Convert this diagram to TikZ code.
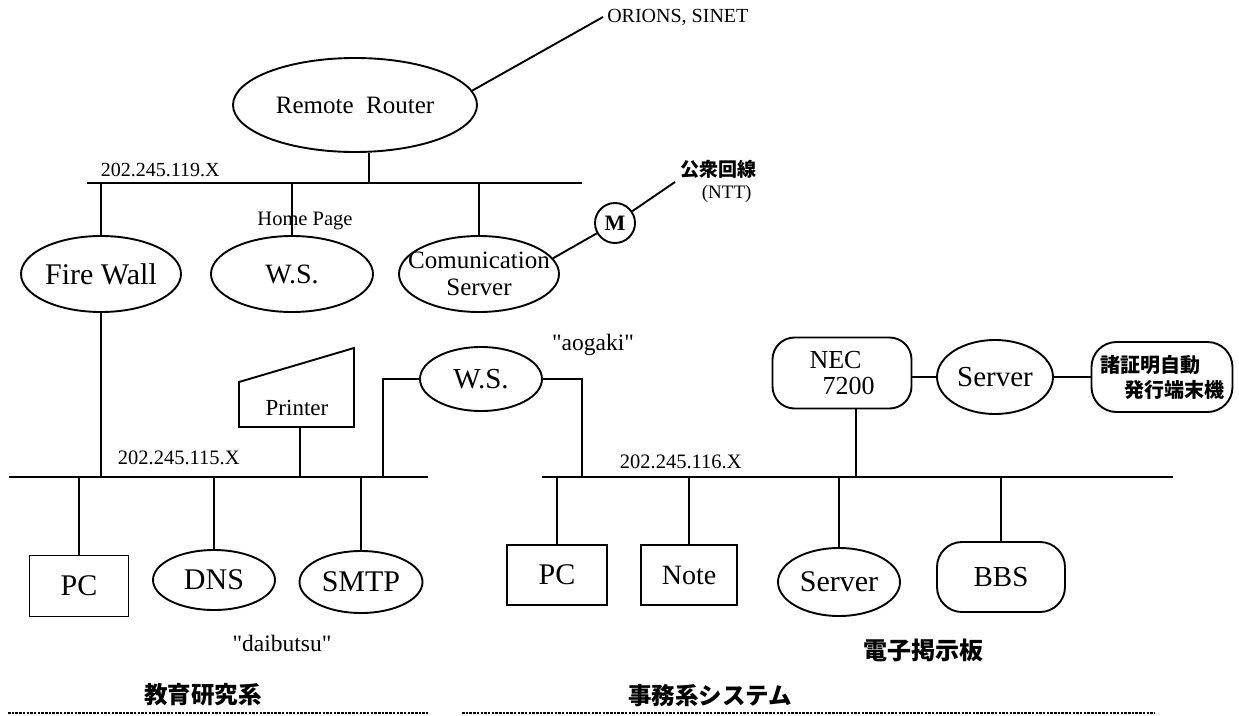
\documentclass[tikz,border=0pt]{standalone}
\usepackage{fontspec}
\setmainfont{Liberation Serif}[Ligatures=TeXOff]
\newfontfamily\cjk{Noto Sans CJK JP}
\usetikzlibrary{shapes.geometric}
\newcommand\fsz[1]{\fontsize{#1pt}{\dimexpr #1pt*115/100\relax}\selectfont}
\begin{document}
\begin{tikzpicture}[x=1pt,y=-1pt, line width=1.9pt,
  ell/.style={draw, ellipse, inner sep=0pt},
  boxnode/.style={draw, rectangle, inner sep=0pt},
  rboxnode/.style={draw, rectangle, rounded corners=22pt, inner sep=0pt},
  busline/.style={line width=2.2pt},
  sepline/.style={line width=2pt, dash pattern=on 2.5pt off 1.2pt},
  lab/.style={inner sep=0pt},
  jp/.style={font=\cjk\bfseries\fsz{#1}}]
\fill[white] (0,0) rectangle (1239,715);
\useasboundingbox (0,0) rectangle (1239,715);

% ---------- top network 202.245.119.X ----------
\node[ell, minimum width=244, minimum height=94,
      label={[font=\fsz{25}]center:Remote\ \ Router}] (router) at (355,105) {};
\node[anchor=west, font=\fsz{20}] (orions) at (603,17) {ORIONS, SINET};
\draw (router.7) -- (orions.west);

\coordinate (b119L) at (87,183);
\coordinate (b119R) at (582,183);
\draw[busline] (b119L) -- (b119R);
\node[lab, anchor=west, font=\fsz{20}] (n119) at (100,170) {202.245.119.X};
\coordinate (rdrop) at ([xshift=14pt]router.south);
\draw (rdrop) -- (rdrop |- b119L);

\node[ell, minimum width=160, minimum height=76,
      label={[font=\fsz{30}]center:Fire Wall}] (fw) at (101,274) {};
\node[ell, minimum width=162, minimum height=76,
      label={[font=\fsz{28}]center:W.S.}] (ws1) at (292,274) {};
\node[lab, font=\fsz{20.5}] (hp) at (305,221) {Home Page};
\node[ell, minimum width=160, minimum height=76,
      label={[font=\fontsize{25pt}{27pt}\selectfont, align=center]center:{Comunication\\Server}}] (cs) at (479,274) {};
\draw (fw.north) -- (fw.north |- b119L);
\draw (ws1.north) -- (ws1.north |- b119L);
\draw (cs.north) -- (cs.north |- b119L);

\node[draw, circle, minimum size=40, inner sep=0pt, font=\bfseries\fsz{22}] (m) at (615,223) {M};
\coordinate (ntt) at (675,182);
\draw (cs.12) -- (m) -- (ntt);
\node[lab, anchor=north west, align=left, font=\fontsize{19pt}{22pt}\selectfont] (kosh) at (680,159)
  {{\cjk\bfseries 公衆回線}\\\hspace*{1.1em}(NTT)};

% ---------- 202.245.115.X ----------
\coordinate (b115L) at (9,477);
\coordinate (b115R) at (428,477);
\draw[busline] (b115L) -- (b115R);
\node[lab, anchor=west, font=\fsz{20.5}] (n115) at (117,458) {202.245.115.X};
\draw (fw.south) -- (fw.south |- b115L);

\draw (239,427) -- (354,427) -- (354,348) -- (239,382) -- cycle;
\node[lab, font=\fsz{23}] (printer) at (297,408) {Printer};
\coordinate (prb) at (300,427);
\draw (prb) -- (prb |- b115L);

\node[ell, minimum width=122, minimum height=64,
      label={[font=\fsz{29}]center:W.S.}] (ws2) at (481,379) {};
\node[lab, font=\fsz{23.5}] (aog) at (593,345) {"aogaki"};
\coordinate (wsl) at (383,477);
\coordinate (wsr) at (582,477);
\draw (ws2.west) -| (wsl);
\draw (ws2.east) -| (wsr);

\node[boxnode, minimum width=99, minimum height=61, font=\fsz{30}] (pc1) at (79,586) {PC};
\node[ell, minimum width=122, minimum height=60,
      label={[font=\fsz{30}]center:DNS}] (dns) at (214,580) {};
\node[ell, minimum width=123, minimum height=62,
      label={[font=\fsz{30}]center:SMTP}] (smtp) at (361,582) {};
\draw (pc1.north) -- (pc1.north |- b115L);
\draw (dns.north) -- (dns.north |- b115L);
\draw (smtp.north) -- (smtp.north |- b115L);
\node[lab, font=\fsz{23.5}] (daib) at (282,643) {"daibutsu"};

% ---------- 202.245.116.X ----------
\coordinate (b116L) at (542,477);
\coordinate (b116R) at (1173,477);
\draw[busline] (b116L) -- (b116R);
\node[lab, anchor=west, font=\fsz{20.5}] (n116) at (619,462) {202.245.116.X};

\node[rboxnode, minimum width=139, minimum height=71, align=left,
      font=\fontsize{26pt}{26pt}\selectfont] (nec) at (842,373) {NEC\\\hspace*{0.5em}7200};
\node[ell, minimum width=116, minimum height=74,
      label={[font=\fsz{29}]center:Server}] (srv1) at (995,377) {};
\node[rboxnode, rounded corners=25pt, minimum width=141, minimum height=70, align=left,
      font=\cjk\bfseries\fontsize{20pt}{25pt}\selectfont] (cert) at (1162,377) {諸証明自動\\\hspace*{1.2em}発行端末機};
\draw (nec.east |- srv1) -- (srv1);
\draw (srv1) -- (cert);
\coordinate (necd) at ([xshift=14pt]nec.south);
\draw (necd) -- (necd |- b116L);

\node[boxnode, minimum width=100, minimum height=60, font=\fsz{30}] (pc2) at (557,575) {PC};
\node[boxnode, minimum width=96, minimum height=60, font=\fsz{28}] (note) at (689,575) {Note};
\node[ell, minimum width=122, minimum height=68,
      label={[font=\fsz{30}]center:Server}] (srv2) at (839,582) {};
\node[rboxnode, rounded corners=25pt, minimum width=128, minimum height=70, font=\fsz{29}] (bbs) at (1001,577) {BBS};
\draw (pc2.north) -- (pc2.north |- b116L);
\draw (note.north) -- (note.north |- b116L);
\draw (srv2.north) -- (srv2.north |- b116L);
\draw (bbs.north) -- (bbs.north |- b116L);
\node[lab, jp=24] (bbslab) at (923,650) {電子掲示板};

% ---------- section labels ----------
\node[lab, jp=23.5] (edu) at (203,695) {教育研究系};
\node[lab, jp=23.5] (adm) at (710,696) {事務系システム};
\coordinate (s1L) at (8,713);
\coordinate (s1R) at (428,713);
\coordinate (s2L) at (462,713);
\coordinate (s2R) at (1155,713);
\draw[sepline] (s1L) -- (s1R);
\draw[sepline] (s2L) -- (s2R);
\end{tikzpicture}
\end{document}
